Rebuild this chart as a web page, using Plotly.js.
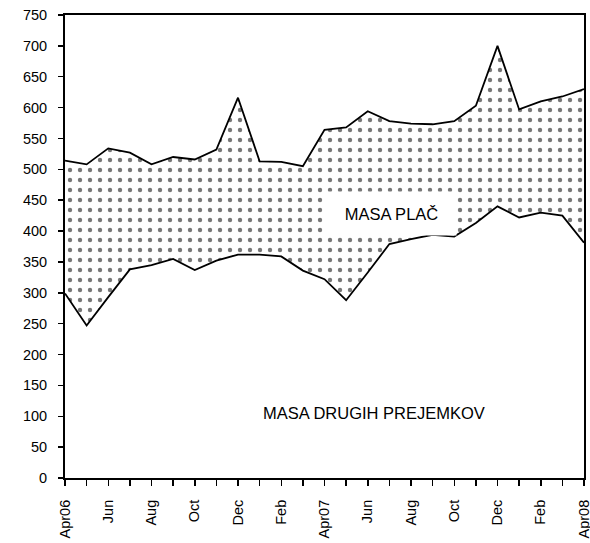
<!DOCTYPE html>
<html>
<head>
<meta charset="utf-8">
<script src="https://cdn.plot.ly/plotly-3.0.1.min.js"></script>
<style>html,body{margin:0;padding:0;background:#fff}#chart{width:590px;height:543px}</style>
</head>
<body>
<div id="chart"></div>
<script>
// months Apr 2006 .. Apr 2008
const months = ["Apr06","May06","Jun06","Jul06","Aug06","Sep06","Oct06","Nov06","Dec06","Jan07","Feb07","Mar07",
                "Apr07","May07","Jun07","Jul07","Aug07","Sep07","Oct07","Nov07","Dec07","Jan08","Feb08","Mar08","Apr08"];
const tickLabels = ["Apr06","","Jun","","Aug","","Oct","","Dec","","Feb","",
                    "Apr07","","Jun","","Aug","","Oct","","Dec","","Feb","","Apr08"];
// lower line: MASA DRUGIH PREJEMKOV
const drugihPrejemkov = [299,247,293,338,345,355,337,352,362,362,359,336,
                         322,288,333,379,387,394,391,413,440,422,430,425,381];
// upper line: total (top of MASA PLAČ band)
const skupaj = [514,508,534,527,508,520,516,532,616,513,512,505,
                564,568,594,578,574,573,578,603,700,597,610,618,630];
const yTicks = [0,50,100,150,200,250,300,350,400,450,500,550,600,650,700,750];

const xIdx = months.map((_, i) => i);
const font = {family: 'Liberation Sans, Arial, sans-serif', color: '#000'};

const traces = [
  {x: xIdx, y: drugihPrejemkov, type: 'scatter', mode: 'lines', name: 'MASA DRUGIH PREJEMKOV',
   line: {color: '#000', width: 1.8}, fill: 'tozeroy', fillcolor: '#ffffff', hoverinfo: 'skip'},
  {x: xIdx, y: skupaj, type: 'scatter', mode: 'lines', name: 'MASA PLAČ',
   line: {color: '#000', width: 1.8}, fill: 'tonexty', fillcolor: '#ffffff',
   fillpattern: {shape: '.', fgcolor: '#777', bgcolor: '#ffffff', size: 10, solidity: 0.15}, hoverinfo: 'skip'}
];

const layout = {
  width: 590, height: 543,
  margin: {l: 65, r: 6, t: 15, b: 65},
  paper_bgcolor: '#fff', plot_bgcolor: '#fff',
  showlegend: false,
  font: Object.assign({size: 14.5}, font),
  xaxis: {
    range: [0, months.length - 1], tickvals: xIdx, ticktext: tickLabels,
    tickangle: -90, ticks: 'outside', ticklen: 6, tickwidth: 1.5, tickcolor: '#000',
    showline: true, linecolor: '#000', linewidth: 2, mirror: true,
    showgrid: false, zeroline: false, ticklabelstandoff: 8, ticklabeloverflow: 'allow',
    tickfont: Object.assign({size: 14.5}, font)
  },
  yaxis: {
    range: [0, 750], tickvals: yTicks, ticks: 'outside', ticklen: 5, tickwidth: 1.5, tickcolor: '#000',
    showline: true, linecolor: '#000', linewidth: 2, mirror: true,
    showgrid: false, zeroline: false, ticklabelstandoff: 8,
    tickfont: Object.assign({size: 14.5}, font)
  },
  annotations: [
    {x: 15.1, y: 428, xref: 'x', yref: 'y', text: 'MASA PLAČ', showarrow: false,
     bgcolor: '#ffffff', width: 127, height: 41, font: Object.assign({size: 16.5}, font)},
    {x: 14.3, y: 105, xref: 'x', yref: 'y', text: 'MASA DRUGIH PREJEMKOV', showarrow: false,
     font: Object.assign({size: 16.5}, font)}
  ]
};

Plotly.newPlot('chart', traces, layout, {staticPlot: true, displayModeBar: false});
</script>
</body>
</html>
